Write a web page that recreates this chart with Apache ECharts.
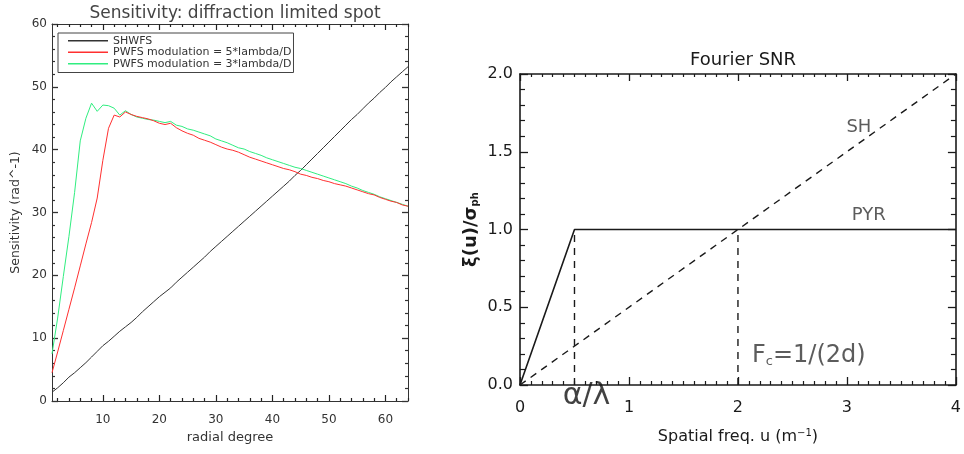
<!DOCTYPE html>
<html>
<head>
<meta charset="utf-8">
<script src="https://cdn.jsdelivr.net/npm/echarts@6/dist/echarts.min.js"></script>
<style>
  html, body { margin: 0; padding: 0; background: #ffffff; }
  #chart { width: 964px; height: 454px; }
</style>
</head>
<body>
<div id="chart"></div>
<script>
// ---- Sensitivity vs radial degree ----
const radialDegree = [
  1, 2, 3, 4, 5, 6, 7, 8, 9, 10, 11, 12, 13, 14, 15, 16, 17, 18, 19, 20,
  21, 22, 23, 24, 25, 26, 27, 28, 29, 30, 31, 32, 33, 34, 35, 36, 37, 38, 39, 40,
  41, 42, 43, 44, 45, 46, 47, 48, 49, 50, 51, 52, 53, 54, 55, 56, 57, 58, 59, 60,
  61, 62, 63, 64
];
const shwfs = [
  1.4, 2.1, 2.9, 3.8, 4.5, 5.3, 6.1, 7.0, 7.9, 8.8,
  9.5, 10.3, 11.1, 11.8, 12.5, 13.3, 14.2, 15.0, 15.8, 16.6,
  17.3, 18.0, 18.9, 19.7, 20.5, 21.3, 22.1, 22.9, 23.8, 24.6,
  25.4, 26.2, 27.0, 27.8, 28.6, 29.4, 30.2, 31.0, 31.8, 32.6,
  33.4, 34.2, 35.0, 35.9, 36.7, 37.6, 38.5, 39.4, 40.3, 41.2,
  42.1, 43.0, 43.9, 44.8, 45.6, 46.5, 47.4, 48.2, 49.1, 49.9,
  50.8, 51.6, 52.4, 53.2
];
const pwfsMod5 = [
  4.5, 7.8, 11.2, 14.6, 18.0, 21.5, 25.0, 28.4, 32.3, 38.3,
  43.4, 45.5, 45.2, 46.0, 45.6, 45.3, 45.1, 44.9, 44.6, 44.2,
  44.0, 44.2, 43.5, 43.0, 42.6, 42.3, 41.8, 41.5, 41.2, 40.8,
  40.4, 40.1, 39.9, 39.6, 39.2, 38.8, 38.5, 38.2, 37.9, 37.6,
  37.3, 37.0, 36.8, 36.5, 36.1, 35.9, 35.6, 35.4, 35.1, 34.9,
  34.6, 34.4, 34.2, 33.9, 33.6, 33.3, 33.0, 32.8, 32.4, 32.1,
  31.8, 31.6, 31.2, 31.0
];
const pwfsMod3 = [
  7.5, 13.2, 19.8, 26.2, 33.2, 41.4, 45.0, 47.4, 46.1, 47.1,
  47.0, 46.6, 45.5, 46.2, 45.6, 45.2, 45.0, 44.8, 44.7, 44.5,
  44.3, 44.5, 43.9, 43.7, 43.3, 43.1, 42.8, 42.5, 42.2, 41.7,
  41.4, 41.1, 40.7, 40.3, 40.1, 39.7, 39.4, 39.1, 38.7, 38.4,
  38.1, 37.8, 37.5, 37.2, 37.0, 36.7, 36.4, 36.1, 35.8, 35.5,
  35.2, 34.9, 34.6, 34.2, 33.9, 33.5, 33.2, 32.9, 32.5, 32.2,
  31.9, 31.6, 31.3, 31.0
];
const degreeMajorTicks = [10, 20, 30, 40, 50, 60];
const degreeMinorTicks = [2, 4, 6, 8, 12, 14, 16, 18, 22, 24, 26, 28, 32, 34, 36, 38,
  42, 44, 46, 48, 52, 54, 56, 58, 62, 64];

// ---- Fourier SNR ----
const pyrFreq = [0, 0.5, 4];
const pyrSnr = [0, 1, 1];
const shFreq = [0, 4];
const shSnr = [0, 2];
const alphaFreq = 0.5;      // modulation cut: alpha / lambda
const cutoffFreq = 2;       // F_c = 1/(2d)
const markerTop = 1;

const zip = (xs, ys) => xs.map((x, i) => [x, ys[i]]);

const FONT = 'DejaVu Sans';
const INK = '#333333';
const DARK = '#1a1a1a';

function leftTickAxis(position, values, len, withLabels, withLine, extra) {
  return Object.assign({
    type: 'value', gridIndex: 0, position: position, min: 1, max: 64,
    axisLine: { show: withLine, onZero: false, lineStyle: { color: INK, width: 1 } },
    axisTick: { show: true, inside: true, length: len, customValues: values,
                lineStyle: { color: '#222', width: 1.2 } },
    minorTick: { show: false },
    axisLabel: withLabels
      ? { show: true, customValues: values, margin: 13, fontSize: 12, fontFamily: FONT, color: INK }
      : { show: false },
    splitLine: { show: false }
  }, extra || {});
}

function valueAxis(grid, position, min, max, interval, minorSplit, major, minor, color, width, extra) {
  return Object.assign({
    type: 'value', gridIndex: grid, position: position, min: min, max: max, interval: interval,
    axisLine: { show: true, onZero: false, lineStyle: { color: color, width: width } },
    axisTick: { show: true, inside: true, length: major, lineStyle: { color: color, width: 1.3 } },
    minorTick: { show: true, splitNumber: minorSplit, length: minor, lineStyle: { color: color, width: 1.2 } },
    axisLabel: { show: false },
    splitLine: { show: false },
    minorSplitLine: { show: false }
  }, extra || {});
}

const chart = echarts.init(document.getElementById('chart'), null, { renderer: 'canvas' });

const option = {
  backgroundColor: '#ffffff',
  animation: false,
  title: [
    { text: 'Sensitivity: diffraction limited spot', left: 230, top: 0, textAlign: 'center',
      textStyle: { fontFamily: FONT, fontSize: 17, fontWeight: 'normal', color: '#444' } },
    { text: 'Fourier SNR', left: 738, top: 46, textAlign: 'center',
      textStyle: { fontFamily: FONT, fontSize: 18, fontWeight: 'normal', color: DARK } }
  ],
  legend: {
    data: [
      { name: 'SHWFS', icon: 'rect' },
      { name: 'PWFS modulation = 5*lambda/D', icon: 'rect' },
      { name: 'PWFS modulation = 3*lambda/D', icon: 'rect' }
    ],
    orient: 'vertical', left: 58, top: 33,
    padding: [2, 2, 3, 10],
    itemWidth: 40, itemHeight: 1.5, itemGap: 0,
    borderColor: '#444', borderWidth: 1,
    textStyle: { fontFamily: FONT, fontSize: 11, color: INK, lineHeight: 11.5 }
  },
  grid: [
    { left: 52, right: 556, top: 24, bottom: 53, containLabel: false },
    { left: 520, right: 5, top: 74, bottom: 69, containLabel: false }
  ],
  xAxis: [
    leftTickAxis('bottom', degreeMajorTicks, 6, true, true, {
      name: 'radial degree', nameLocation: 'middle', nameGap: 28,
      nameTextStyle: { fontFamily: FONT, fontSize: 13, color: INK }
    }),
    leftTickAxis('bottom', degreeMinorTicks, 3, false, false),
    leftTickAxis('top', degreeMajorTicks, 6, false, true),
    leftTickAxis('top', degreeMinorTicks, 3, false, false),
    valueAxis(1, 'bottom', 0, 4, 1, 10, 8, 4, DARK, 1.6, {
      axisLabel: { show: true, margin: 15, fontSize: 16, fontFamily: FONT, color: DARK },
      name: 'Spatial freq. u (m{sup|−1})', nameLocation: 'middle', nameGap: 43,
      nameTextStyle: { fontFamily: FONT, fontSize: 16, color: DARK,
        rich: { sup: { fontFamily: FONT, fontSize: 10, color: DARK, verticalAlign: 'top', padding: [0, 0, 8, 0] } } }
    }),
    valueAxis(1, 'top', 0, 4, 1, 10, 7, 3, DARK, 1.6)
  ],
  yAxis: [
    valueAxis(0, 'left', 0, 60, 10, 5, 6, 3, INK, 1, {
      axisLabel: { show: true, margin: 5, fontSize: 12, fontFamily: FONT, color: INK },
      name: 'Sensitivity (rad^-1)', nameLocation: 'middle', nameGap: 30,
      nameTextStyle: { fontFamily: FONT, fontSize: 12.5, color: INK }
    }),
    valueAxis(0, 'right', 0, 60, 10, 5, 6, 3, INK, 1),
    valueAxis(1, 'left', 0, 2, 0.5, 5, 8, 5, DARK, 1.6, {
      axisLabel: { show: true, margin: 7, fontSize: 16, fontFamily: FONT, color: DARK,
                   formatter: v => v.toFixed(1) },
      name: 'ξ(u)/σ{sub|ph}', nameLocation: 'middle', nameGap: 40,
      nameTextStyle: { fontFamily: FONT, fontSize: 18, fontWeight: 'bold', color: DARK,
        rich: { sub: { fontFamily: FONT, fontSize: 10, fontWeight: 'bold', color: DARK, padding: [8, 0, 0, 0] } } }
    }),
    valueAxis(1, 'right', 0, 2, 0.5, 5, 8, 5, DARK, 1.6)
  ],
  series: [
    {
      name: 'SHWFS', type: 'line', xAxisIndex: 0, yAxisIndex: 0,
      data: zip(radialDegree, shwfs), symbol: 'none', showSymbol: false, z: 2,
      lineStyle: { color: '#333333', width: 1 }, itemStyle: { color: '#333333' }
    },
    {
      name: 'PWFS modulation = 5*lambda/D', type: 'line', xAxisIndex: 0, yAxisIndex: 0,
      data: zip(radialDegree, pwfsMod5), symbol: 'none', showSymbol: false, z: 4,
      lineStyle: { color: '#ff3030', width: 1 }, itemStyle: { color: '#ff3030' }
    },
    {
      name: 'PWFS modulation = 3*lambda/D', type: 'line', xAxisIndex: 0, yAxisIndex: 0,
      data: zip(radialDegree, pwfsMod3), symbol: 'none', showSymbol: false, z: 3,
      lineStyle: { color: '#30ee80', width: 1 }, itemStyle: { color: '#30ee80' }
    },
    {
      type: 'line', xAxisIndex: 4, yAxisIndex: 2, data: zip(pyrFreq, pyrSnr),
      symbol: 'none', silent: true,
      lineStyle: { color: DARK, width: 1.6 }
    },
    {
      type: 'line', xAxisIndex: 4, yAxisIndex: 2, data: zip(shFreq, shSnr),
      symbol: 'none', silent: true,
      lineStyle: { color: DARK, width: 1.4, type: [7, 6] }
    },
    {
      type: 'line', xAxisIndex: 4, yAxisIndex: 2, data: [[alphaFreq, 0], [alphaFreq, markerTop]],
      symbol: 'none', silent: true,
      lineStyle: { color: DARK, width: 1.4, type: [7, 6] }
    },
    {
      type: 'line', xAxisIndex: 4, yAxisIndex: 2, data: [[cutoffFreq, 0], [cutoffFreq, markerTop]],
      symbol: 'none', silent: true,
      lineStyle: { color: DARK, width: 1.4, type: [7, 6] }
    },
    {
      type: 'scatter', xAxisIndex: 4, yAxisIndex: 2, symbolSize: 0, silent: true, clip: false,
      data: [
        { value: [3.11, 1.66], label: { formatter: 'SH', fontSize: 18 } },
        { value: [3.2, 1.09], label: { formatter: 'PYR', fontSize: 18 } },
        { value: [2.65, 0.19], label: { formatter: 'F{sub|c}=1/(2d)', fontSize: 24 } },
        { value: [0.61, -0.07], label: { formatter: 'α/λ', fontSize: 30, color: '#111' } }
      ],
      label: {
        show: true, position: 'inside', fontFamily: FONT, color: '#333',
        rich: { sub: { fontFamily: FONT, fontSize: 13, color: '#333', padding: [13, 0, 0, 0] } }
      }
    }
  ]
};

chart.setOption(option);
</script>
</body>
</html>
